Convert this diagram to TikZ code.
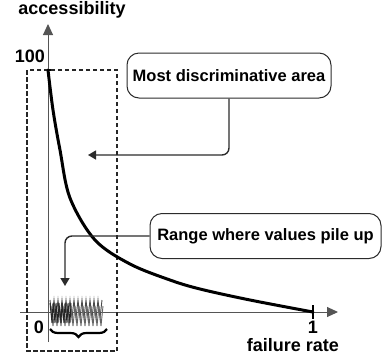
\documentclass[tikz,border=0pt]{standalone}
\usepackage{fontspec}
\setmainfont{Liberation Sans}
\usetikzlibrary{arrows.meta, positioning, decorations.pathreplacing}
\definecolor{AxisGray}{HTML}{555555}
\definecolor{BoxLine}{HTML}{2B2B2B}
\definecolor{PileGray}{HTML}{4A4A4A}

\begin{document}
\begin{tikzpicture}[
    x=1pt, y=-1pt,
    axislbl/.style={font=\fontsize{18}{20}\selectfont\bfseries, inner sep=0pt},
    callout/.style={
      draw=BoxLine, line width=1pt, rounded corners=12pt,
      minimum height=45pt, align=center, inner sep=0pt,
      font=\fontsize{16.5}{18}\selectfont\bfseries
    },
    axisline/.style={draw=AxisGray, line width=1pt, -{Triangle[length=11pt,width=10pt]}},
    pointer/.style={draw=BoxLine, line width=1.4pt, rounded corners=7pt, -{Triangle[length=8pt,width=9pt]}},
    zone/.style={draw=black!85, line width=2.2pt, dash pattern=on 4.5pt off 2.5pt},
    tickmark/.style={draw=black, line width=2pt},
    curve/.style={draw=black, line width=3pt, line cap=round}
  ]
    \useasboundingbox (0,0) rectangle (383,360);

    \coordinate (ybot) at (48,342);
    \coordinate (ytop) at (48,24);
    \coordinate (xbeg) at (20,312);
    \coordinate (xend) at (338,312);
    \draw[axisline] (ybot) -- (ytop);
    \draw[axisline] (xbeg) -- (xend);

    \node[axislbl] (ylabel) at (72,10) {accessibility};
    \node[axislbl] (xlabel) at (293,345) {failure rate};
    \node[axislbl] (top) at (30,56) {100};
    \node[axislbl] (zero) at (39,327) {0};
    \node[axislbl] (one) at (313,327) {1};

    \draw[tickmark] (44,70) -- (54,70);
    \draw[tickmark] (313,305) -- (313,319);

    \draw[zone] (27,70) rectangle (117,351);

    \draw[curve] plot[smooth, tension=0.55] coordinates {
      (48,70) (53,110) (60,150) (70,198) (95,240) (130,264)
      (170,280) (200,289) (250,300) (313,312)};

    % values piling up near zero
    \draw[PileGray, line width=0.9pt] (50,300)
      \foreach \k in {1,...,13} { -- ({48+4*\k},318) -- ({50+4*\k},300) };
    \draw[PileGray!85, line width=0.9pt] (51,306)
      \foreach \k in {1,...,13} { -- ({49+4*\k},326) -- ({51+4*\k},306) };
    \draw[black!85, line width=0.9pt] (50,303)
      \foreach \k in {1,...,7} { -- ({49+3*\k},323) -- ({50+3*\k},303) };
    \draw[decorate, decoration={brace, amplitude=8pt}, line width=2.2pt]
      (107,329) -- (50,329);

    \node[callout, minimum width=204pt] (most) at (229,75.5) {Most discriminative area};
    \node[callout, minimum width=231pt] (range) at (265.5,236) {Range where values pile up};

    \coordinate (mosttip) at (88,155);
    \coordinate (rangetip) at (65,286);
    \draw[pointer] (most.south) |- (mosttip);
    \draw[pointer] (range.west) -| (rangetip);
  \end{tikzpicture}
\end{document}
